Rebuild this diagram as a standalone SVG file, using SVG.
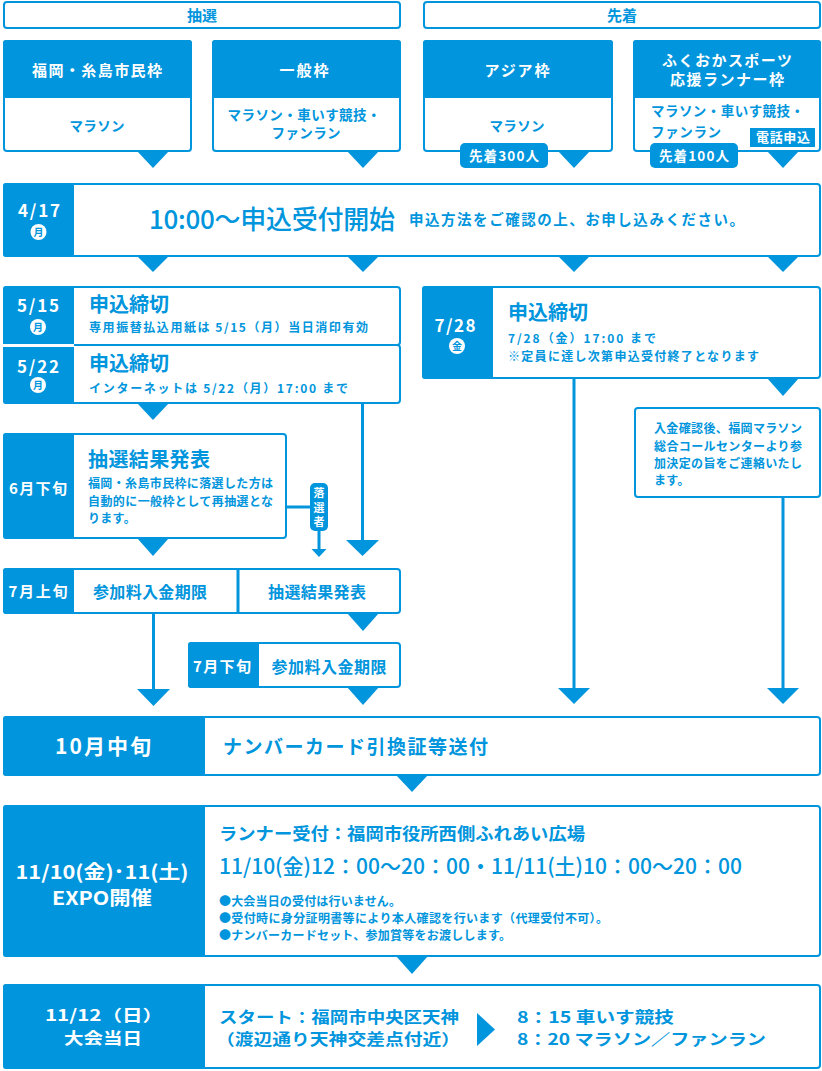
<svg xmlns="http://www.w3.org/2000/svg" width="822" height="1071" viewBox="0 0 822 1071">
<style>
.bx{fill:#fff;stroke:#0095dc;stroke-width:2}
.bf{fill:#0095dc}
.ln{stroke:#0095dc;stroke-width:3;fill:none}
.t{font-family:"Noto Sans CJK JP","Noto Sans",sans-serif;font-weight:700}
.w{fill:#fff}
.b{fill:#0095dc}
.m{text-anchor:middle}
.md{font-weight:500}
</style>
<rect width="822" height="1071" fill="#fff"/>

<g id="hdr-chusen">
<rect class="bx" x="4" y="2" width="396" height="26" rx="3"/>
<text class="t b m" x="202" y="20.5" font-size="15">抽選</text>
</g>
<g id="hdr-senchaku">
<rect class="bx" x="424" y="2" width="396" height="26" rx="3"/>
<text class="t b m" x="622" y="20.5" font-size="15">先着</text>
</g>

<g id="cat-fukuoka">
<rect class="bx" x="4" y="41" width="187" height="110" rx="3"/>
<path class="bf" d="M3,43 Q3,40 6,40 H189 Q192,40 192,43 V98 H3 Z"/>
<text class="t w m" x="97" y="75.5" font-size="15" textLength="130" lengthAdjust="spacing">福岡・糸島市民枠</text>
<text class="t b m" x="97" y="131" font-size="13.5" textLength="55" lengthAdjust="spacing">マラソン</text>
</g>
<g id="cat-ippan">
<rect class="bx" x="213" y="41" width="187" height="110" rx="3"/>
<path class="bf" d="M212,43 Q212,40 215,40 H398 Q401,40 401,43 V98 H212 Z"/>
<text class="t w m" x="304" y="75.5" font-size="15" textLength="49" lengthAdjust="spacing">一般枠</text>
<text class="t b m" x="304" y="120" font-size="13.5" textLength="153" lengthAdjust="spacing">マラソン・車いす競技・</text>
<text class="t b m" x="306" y="138" font-size="13.5" textLength="69" lengthAdjust="spacing">ファンラン</text>
</g>
<g id="cat-asia">
<rect class="bx" x="424" y="41" width="188" height="110" rx="3"/>
<path class="bf" d="M423,43 Q423,40 426,40 H610 Q613,40 613,43 V98 H423 Z"/>
<text class="t w m" x="517" y="75.5" font-size="15" textLength="65" lengthAdjust="spacing">アジア枠</text>
<text class="t b m" x="517" y="131" font-size="13.5" textLength="55" lengthAdjust="spacing">マラソン</text>
</g>
<g id="cat-sports">
<rect class="bx" x="634" y="41" width="186" height="110" rx="3"/>
<path class="bf" d="M633,43 Q633,40 636,40 H818 Q821,40 821,43 V98 H633 Z"/>
<text class="t w m" x="727" y="65.5" font-size="15" textLength="130" lengthAdjust="spacing">ふくおかスポーツ</text>
<text class="t w m" x="727" y="84.5" font-size="15" textLength="114" lengthAdjust="spacing">応援ランナー枠</text>
<text class="t b" x="651" y="116" font-size="13.5" textLength="153" lengthAdjust="spacing">マラソン・車いす競技・</text>
<text class="t b" x="651" y="137" font-size="13.5" textLength="70" lengthAdjust="spacing">ファンラン</text>
</g>

<g id="connectors">
<g class="bf">
<polygon points="137,151 169,151 153,168"/>
<polygon points="347,151 379,151 363,168"/>
<polygon points="558,151 590,151 574,168"/>
<polygon points="767,151 799,151 783,168"/>
<polygon points="137,256 169,256 153,272"/>
<polygon points="347,256 379,256 363,272"/>
<polygon points="558,256 590,256 574,272"/>
<polygon points="767,256 799,256 783,272"/>
<polygon points="137,403 169,403 153,420"/>
<polygon points="346,540 379,540 362.5,556"/>
<polygon points="137,538 169,538 153,556"/>
<polygon points="311.5,549 326.5,549 319,557"/>
<polygon points="347,613 379,613 363,631"/>
<polygon points="137,689 170,689 153.5,706"/>
<polygon points="347,687 379,687 363,705"/>
<polygon points="558,688 590,688 574,704"/>
<polygon points="767,378 799,378 783,396"/>
<polygon points="767,688 799,688 783,704"/>
<polygon points="396,775 428,775 412,792"/>
<polygon points="396,956 428,956 412,974"/>
</g>
<path class="ln" d="M362.5,404 V541"/>
<path class="ln" d="M153.5,614 V690"/>
<path class="ln" d="M574,379 V689"/>
<path class="ln" d="M783,498 V689"/>
<path class="ln" stroke-width="2.5" d="M287,507 H311"/>
<path class="ln" stroke-width="2.5" d="M319,530 V550"/>
</g>

<g id="badge-300">
<rect class="bf" x="460" y="143" width="88" height="25" rx="5"/>
<text class="t w m" x="504" y="161" font-size="13.5" textLength="70" lengthAdjust="spacing">先着300人</text>
</g>
<g id="badge-100">
<rect class="bf" x="650" y="143" width="88" height="25" rx="5"/>
<text class="t w m" x="694" y="161" font-size="13.5" textLength="70" lengthAdjust="spacing">先着100人</text>
</g>
<g id="badge-tel">
<rect class="bf" x="750" y="128" width="65" height="19"/>
<text class="t w m" x="783" y="142" font-size="13" textLength="54" lengthAdjust="spacing">電話申込</text>
</g>

<g id="n-0417">
<rect class="bx" x="4" y="184" width="816" height="72" rx="3"/>
<path class="bf" d="M74,183 H6 Q3,183 3,186 V254 Q3,257 6,257 H74 Z"/>
<text class="t w m" x="39" y="217" font-size="17" textLength="42" lengthAdjust="spacing">4/17</text>
<circle cx="38.5" cy="232" r="8" fill="#fff"/>
<text class="t b m" x="38.5" y="235.6" font-size="10">月</text>
<text class="t b md" x="149" y="229.4" font-size="26" textLength="246" lengthAdjust="spacing">10:00〜申込受付開始</text>
<text class="t b" x="409" y="225.2" font-size="14.5" textLength="335" lengthAdjust="spacing">申込方法をご確認の上、お申し込みください。</text>
</g>

<g id="n-0515">
<rect class="bx" x="4" y="287" width="396" height="58" rx="3"/>
<path class="bf" d="M74,286 H6 Q3,286 3,289 V344 H74 Z"/>
<text class="t w m" x="38" y="312" font-size="17" textLength="42" lengthAdjust="spacing">5/15</text>
<circle cx="38" cy="327" r="8" fill="#fff"/>
<text class="t b m" x="38" y="330.6" font-size="10">月</text>
<text class="t b" x="89" y="312.2" font-size="20" textLength="80" lengthAdjust="spacing">申込締切</text>
<text class="t b" x="89" y="332.3" font-size="12" textLength="279" lengthAdjust="spacing">専用振替払込用紙は 5/15（月）当日消印有効</text>
</g>
<g id="n-0522">
<rect class="bx" x="4" y="345" width="396" height="58" rx="3"/>
<rect x="3" y="344" width="71" height="3" fill="#fff"/>
<path class="bf" d="M74,347 H3 V401 Q3,404 6,404 H74 Z"/>
<text class="t w m" x="38" y="373" font-size="17" textLength="42" lengthAdjust="spacing">5/22</text>
<circle cx="38" cy="385" r="8" fill="#fff"/>
<text class="t b m" x="38" y="388.6" font-size="10">月</text>
<text class="t b" x="89" y="371.2" font-size="20" textLength="80" lengthAdjust="spacing">申込締切</text>
<text class="t b" x="89" y="393.3" font-size="12" textLength="259" lengthAdjust="spacing">インターネットは 5/22（月）17:00 まで</text>
</g>

<g id="n-0728">
<rect class="bx" x="423" y="287" width="397" height="91" rx="3"/>
<path class="bf" d="M493,286 H425 Q422,286 422,289 V376 Q422,379 425,379 H493 Z"/>
<text class="t w m" x="455" y="332" font-size="17" textLength="41" lengthAdjust="spacing">7/28</text>
<circle cx="457" cy="346" r="8" fill="#fff"/>
<text class="t b m" x="457" y="349.6" font-size="10">金</text>
<text class="t b" x="508" y="320.2" font-size="20" textLength="80" lengthAdjust="spacing">申込締切</text>
<text class="t b" x="508" y="343.3" font-size="12" textLength="148" lengthAdjust="spacing">7/28（金）17:00 まで</text>
<text class="t b" x="508" y="361.3" font-size="12" textLength="251" lengthAdjust="spacing">※定員に達し次第申込受付終了となります</text>
</g>

<g id="n-nyukin">
<rect class="bx" x="635" y="408" width="185" height="89" rx="3"/>
<text class="t b" x="654" y="433.3" font-size="12" textLength="148" lengthAdjust="spacing">入金確認後、福岡マラソン</text>
<text class="t b" x="654" y="451.3" font-size="12" textLength="148" lengthAdjust="spacing">総合コールセンターより参</text>
<text class="t b" x="654" y="468.3" font-size="12" textLength="148" lengthAdjust="spacing">加決定の旨をご連絡いたし</text>
<text class="t b" x="654" y="485.3" font-size="12" letter-spacing="0.3">ます。</text>
</g>

<g id="n-6gejun">
<rect class="bx" x="4" y="434" width="282" height="104" rx="3"/>
<path class="bf" d="M74,433 H6 Q3,433 3,436 V536 Q3,539 6,539 H74 Z"/>
<text class="t w m" x="38" y="494.4" font-size="15" textLength="58" lengthAdjust="spacing">6月下旬</text>
<text class="t b" x="88" y="467.2" font-size="20" textLength="122" lengthAdjust="spacing">抽選結果発表</text>
<text class="t b" x="88" y="488.3" font-size="12" textLength="185" lengthAdjust="spacing">福岡・糸島市民枠に落選した方は</text>
<text class="t b" x="88" y="506.3" font-size="12" textLength="185" lengthAdjust="spacing">自動的に一般枠として再抽選とな</text>
<text class="t b" x="88" y="523.3" font-size="12" letter-spacing="0.3">ります。</text>
</g>

<g id="badge-rakusen">
<rect class="bf" x="310" y="483" width="18" height="48" rx="5"/>
<text class="t w m" x="319" y="497" font-size="11">落</text>
<text class="t w m" x="319" y="512" font-size="11">選</text>
<text class="t w m" x="319" y="526" font-size="11">者</text>
</g>

<g id="n-7jojun">
<rect class="bx" x="4" y="569" width="396" height="44" rx="3"/>
<path class="bf" d="M74,568 H6 Q3,568 3,571 V611 Q3,614 6,614 H74 Z"/>
<path class="ln" stroke-width="2" d="M238,568 V614"/>
<text class="t w m" x="38" y="597.4" font-size="15" textLength="59" lengthAdjust="spacing">7月上旬</text>
<text class="t b m" x="150" y="597.8" font-size="16" textLength="114" lengthAdjust="spacing">参加料入金期限</text>
<text class="t b m" x="317" y="597.8" font-size="16" textLength="98" lengthAdjust="spacing">抽選結果発表</text>
</g>

<g id="n-7gejun">
<rect class="bx" x="189" y="643" width="211" height="44" rx="3"/>
<path class="bf" d="M259,642 H191 Q188,642 188,645 V685 Q188,688 191,688 H259 Z"/>
<text class="t w m" x="222" y="672.4" font-size="15" textLength="58" lengthAdjust="spacing">7月下旬</text>
<text class="t b m" x="329" y="672.8" font-size="16" textLength="115" lengthAdjust="spacing">参加料入金期限</text>
</g>

<g id="n-10chujun">
<rect class="bx" x="4" y="717" width="816" height="58" rx="3"/>
<path class="bf" d="M205,716 H6 Q3,716 3,719 V773 Q3,776 6,776 H205 Z"/>
<text class="t w m" x="103" y="753.6" font-size="21" textLength="96" lengthAdjust="spacing">10月中旬</text>
<text class="t b" x="223" y="753.8" font-size="19" textLength="265" lengthAdjust="spacing">ナンバーカード引換証等送付</text>
</g>

<g id="n-expo">
<rect class="bx" x="4" y="806" width="816" height="150" rx="3"/>
<path class="bf" d="M205,805 H6 Q3,805 3,808 V954 Q3,957 6,957 H205 Z"/>
<text class="t w m" x="102" y="878.8" font-size="19" textLength="173" lengthAdjust="spacingAndGlyphs">11/10(金)･11(土)</text>
<text class="t w m" x="102" y="904.8" font-size="19" textLength="100" lengthAdjust="spacingAndGlyphs">EXPO開催</text>
<text class="t b" x="219" y="840" font-size="17" textLength="366" lengthAdjust="spacingAndGlyphs">ランナー受付：福岡市役所西側ふれあい広場</text>
<text class="t b md" x="219" y="873.5" font-size="21" textLength="523" lengthAdjust="spacingAndGlyphs">11/10(金)12：00〜20：00・11/11(土)10：00〜20：00</text>
<text class="t b" x="219" y="906.3" font-size="12" textLength="182" lengthAdjust="spacing">●大会当日の受付は行いません。</text>
<text class="t b" x="219" y="923.3" font-size="12" textLength="389" lengthAdjust="spacing">●受付時に身分証明書等により本人確認を行います（代理受付不可）。</text>
<text class="t b" x="219" y="940.3" font-size="12" textLength="292" lengthAdjust="spacing">●ナンバーカードセット、参加賞等をお渡しします。</text>
</g>

<g id="n-raceday">
<rect class="bx" x="4" y="985" width="816" height="83" rx="3"/>
<path class="bf" d="M205,984 H6 Q3,984 3,987 V1066 Q3,1069 6,1069 H205 Z"/>
<text class="t w m" x="104" y="1020.5" font-size="16" textLength="118" lengthAdjust="spacingAndGlyphs">11/12（日）</text>
<text class="t w m" x="103" y="1044" font-size="16" textLength="78" lengthAdjust="spacingAndGlyphs">大会当日</text>
<text class="t b" x="219" y="1022.5" font-size="15.5" textLength="240" lengthAdjust="spacingAndGlyphs">スタート：福岡市中央区天神</text>
<text class="t b" x="216" y="1045" font-size="15.5" textLength="244" lengthAdjust="spacingAndGlyphs">（渡辺通り天神交差点付近）</text>
<polygon class="bf" points="477,1013 495,1029.5 477,1046"/>
<text class="t b" x="517" y="1022.5" font-size="15.5" textLength="157" lengthAdjust="spacingAndGlyphs">8：15 車いす競技</text>
<text class="t b" x="517" y="1045" font-size="15.5" textLength="249" lengthAdjust="spacingAndGlyphs">8：20 マラソン／ファンラン</text>
</g>
</svg>
